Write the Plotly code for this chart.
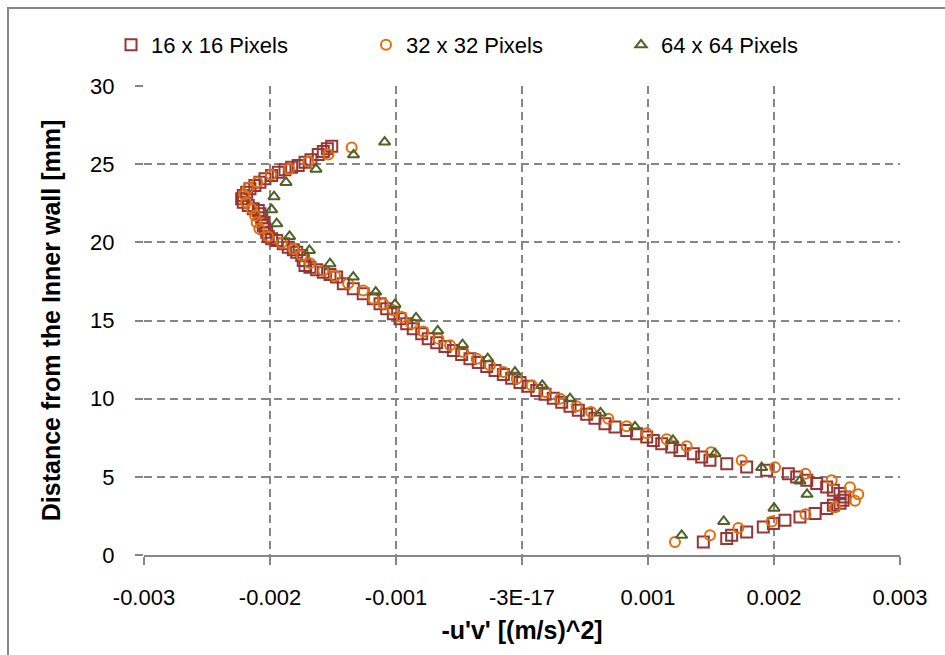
import plotly.graph_objects as go

# ---- data ----
sq_x = [-0.001510, -0.001545, -0.001577, -0.001617, -0.001675, -0.001722, -0.001776, -0.001828, -0.001881, -0.001934,
        -0.001987, -0.00204, -0.00208, -0.00212, -0.002159, -0.002185, -0.002212, -0.002225, -0.002212, -0.002172,
        -0.002133, -0.002093, -0.00208, -0.002066, -0.002053, -0.002053, -0.00204, -0.002026, -0.002014, -0.001987,
        -0.001947, -0.001895, -0.001855, -0.001815, -0.001788, -0.001748, -0.001736, -0.001722, -0.001683, -0.00163,
        -0.001577, -0.001524, -0.001471, -0.001418, -0.001339, -0.00126, -0.00118, -0.001127, -0.001074, -0.001021,
        -0.000968, -0.000915, -0.000863, -0.000796, -0.000744,
        -0.000677, -0.000611, -0.000545, -0.000479, -0.000413, -0.000347, -0.00028, -0.000214, -0.000148, -0.000082,
        -0.000016, 0.00005, 0.000117, 0.000183, 0.000248, 0.000315, 0.000381, 0.000447, 0.000513, 0.000579,
        0.000659, 0.000738, 0.000831, 0.00091, 0.00099, 0.001042, 0.001109, 0.001188, 0.001254, 0.00136,
        0.001426, 0.001492, 0.001625, 0.001783, 0.001942, 0.002114, 0.00218, 0.00226, 0.002339, 0.002418,
        0.002471, 0.002524, 0.002563, 0.002548, 0.002524, 0.002471, 0.002418, 0.002326, 0.002206, 0.002087,
        0.001995, 0.001915, 0.001783, 0.001664, 0.001625, 0.001439]
sq_y = [26.15, 25.99, 25.81, 25.62, 25.28, 25.13, 24.92, 24.81, 24.64, 24.49,
        24.28, 24.07, 23.85, 23.64, 23.43, 23.21, 23.0, 22.79, 22.57, 22.36,
        22.15, 22.04, 21.83, 21.57, 21.29, 21.08, 20.87, 20.65, 20.38, 20.23,
        20.12, 19.91, 19.69, 19.53, 19.37, 19.16, 18.84, 18.52, 18.41, 18.25,
        18.09, 17.95, 17.78, 17.35, 17.03, 16.71, 16.39, 16.07, 15.75, 15.43,
        15.11, 14.80, 14.48, 14.16, 13.84,
        13.58, 13.33, 13.08, 12.82, 12.56, 12.31, 12.06, 11.80, 11.55, 11.30,
        11.04, 10.79, 10.53, 10.28, 10.03, 9.77, 9.51, 9.26, 9.01, 8.75,
        8.40, 8.18, 7.97, 7.76, 7.54, 7.33, 7.12, 6.91, 6.69, 6.48,
        6.27, 6.06, 5.84, 5.63, 5.42, 5.20, 4.99, 4.78, 4.57, 4.35,
        4.14, 3.93, 3.71, 3.50, 3.31, 3.18, 2.97, 2.65, 2.43, 2.22,
        2.01, 1.79, 1.47, 1.26, 1.05, 0.83]

ci_x = [-0.001352, -0.001537, -0.001696, -0.001847, -0.001992, -0.002101, -0.002172, -0.002206, -0.002191, -0.002145,
        -0.002119, -0.002106, -0.002085, -0.002014, -0.001907, -0.001815, -0.001748, -0.001683, -0.001577, -0.001484,
        -0.00138, -0.00126, -0.00118, -0.001101, -0.001021, -0.000955, -0.000875, -0.000783, -0.000664, -0.000571,
        -0.000466, -0.00036, -0.000254, -0.000148, -0.000042, 0.000077, 0.000183, 0.000302, 0.000434, 0.000548,
        0.000685, 0.000831, 0.00099, 0.001148, 0.001307, 0.0015, 0.001744, 0.002008, 0.00225, 0.002458,
        0.002603, 0.002669, 0.002643, 0.002484, 0.00225, 0.001982, 0.001717, 0.001492, 0.001214]
ci_y = [26.07, 25.62, 25.17, 24.71, 24.32, 23.85, 23.49, 23.04, 22.57, 22.15,
        21.72, 21.29, 20.87, 20.38, 19.95, 19.59, 19.16, 18.67, 18.20, 17.84,
        17.36, 16.92, 16.39, 16.07, 15.65, 15.22, 14.80, 14.30, 13.84, 13.41,
        12.98, 12.56, 12.13, 11.70, 11.28, 10.85, 10.42, 10.0, 9.51, 9.14,
        8.72, 8.23, 7.78, 7.40, 6.95, 6.57, 6.06, 5.61, 5.20, 4.78,
        4.33, 3.88, 3.47, 3.05, 2.60, 2.15, 1.73, 1.26, 0.83]

tr_x = [-0.00109, -0.001337, -0.001635, -0.001873, -0.001968, -0.001987, -0.001947, -0.001845, -0.001687, -0.001524,
        -0.001339, -0.001161, -0.001008, -0.000841, -0.000669, -0.000472, -0.000272, -0.000056, 0.000161, 0.000381,
        0.000623, 0.000897, 0.001198, 0.001532, 0.001902, 0.002206, 0.002262, 0.002, 0.001601, 0.001267]
tr_y = [26.41, 25.60, 24.68, 23.83, 22.92, 22.09, 21.19, 20.38, 19.48, 18.63,
        17.78, 16.82, 16.03, 15.17, 14.34, 13.45, 12.56, 11.70, 10.85, 10.0,
        9.09, 8.20, 7.33, 6.48, 5.59, 4.74, 3.88, 2.99, 2.15, 1.26]

series_names = ["16 x 16 Pixels", "32 x 32 Pixels", "64 x 64 Pixels"]
x_tickvals = [-0.003, -0.002, -0.001, 0.0, 0.001, 0.002, 0.003]
x_ticktext = ["-0.003", "-0.002", "-0.001", "-3E-17", "0.001", "0.002", "0.003"]
y_tickvals = [0, 5, 10, 15, 20, 25, 30]

FONT = "Liberation Sans, Arial, sans-serif"
FS = 22
FS_TITLE = 25
GRID = "#868686"

fig = go.Figure()
fig.add_trace(go.Scatter(x=sq_x, y=sq_y, mode="markers", name=series_names[0],
                         marker=dict(symbol="square-open", size=11, color="#953735",
                                     line=dict(width=2, color="#953735"))))
fig.add_trace(go.Scatter(x=ci_x, y=ci_y, mode="markers", name=series_names[1],
                         marker=dict(symbol="circle-open", size=10, color="#E46C0A",
                                     line=dict(width=2, color="#E46C0A"))))
fig.add_trace(go.Scatter(x=tr_x, y=tr_y, mode="markers", name=series_names[2],
                         marker=dict(symbol="triangle-up-open", size=10, color="#4F6228",
                                     line=dict(width=2, color="#4F6228"))))

W, H = 945, 655
L, R, T, B = 144, 45, 86, 100
pw, ph = W - L - R, H - T - B

def px2paper_x(p):
    return (p - L) / pw

def px2paper_y(p):
    return (H - B - p) / ph

fig.update_layout(
    width=W, height=H,
    margin=dict(l=L, r=R, t=T, b=B, autoexpand=False),
    paper_bgcolor="white", plot_bgcolor="white",
    font=dict(family=FONT, size=FS, color="black"),
    showlegend=True,
    legend=dict(orientation="h", x=px2paper_x(111), xanchor="left",
                y=px2paper_y(45), yanchor="middle",
                entrywidth=210, entrywidthmode="pixels",
                font=dict(family=FONT, size=FS, color="black"),
                bgcolor="rgba(0,0,0,0)"),
    xaxis=dict(range=[-0.003, 0.003], tickvals=x_tickvals, ticktext=x_ticktext,
               showgrid=True, gridcolor=GRID, gridwidth=1.5, griddash="8px,5px",
               zeroline=False, showline=True, linecolor=GRID, linewidth=2,
               ticks="outside", ticklen=8, tickcolor=GRID, tickwidth=1.5,
               ticklabelstandoff=14,
               title=dict(text="<b>-u'v' [(m/s)^2]</b>", standoff=12,
                          font=dict(family=FONT, size=FS_TITLE, color="black"))),
    yaxis=dict(range=[0, 30], tickvals=y_tickvals,
               showgrid=True, gridcolor=GRID, gridwidth=1.5, griddash="8px,5px",
               zeroline=False, showline=False,
               ticks="outside", ticklen=8, tickcolor=GRID, tickwidth=1.5,
               ticklabelstandoff=16,
               title=dict(text="<b>Distance from the Inner wall [mm]</b>", standoff=22,
                          font=dict(family=FONT, size=FS_TITLE, color="black"))),
)

# chart-area frame (top-left visible in the reference)
fig.add_shape(type="rect", xref="paper", yref="paper",
              x0=px2paper_x(8), x1=px2paper_x(990), y0=px2paper_y(700), y1=px2paper_y(8),
              line=dict(color=GRID, width=2), fillcolor="rgba(0,0,0,0)", layer="below")

fig.write_html("out.html")
